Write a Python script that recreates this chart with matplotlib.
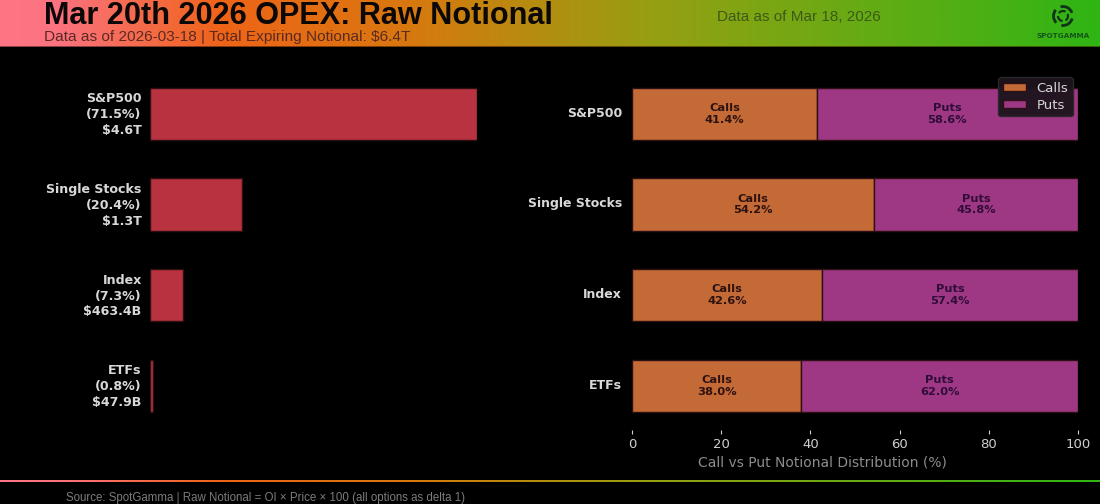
"""
plot.py - Mar 20th 2026 OPEX raw notional chart
"""
import numpy as np
import matplotlib
matplotlib.use("Agg")
import matplotlib.pyplot as plt
from matplotlib.colors import LinearSegmentedColormap
from matplotlib.patches import Arc
from matplotlib.transforms import ScaledTranslation

categories = ["S&P500", "Single Stocks", "Index", "ETFs"]
notional_trillions = [4.6, 1.3, 0.4634, 0.0479]
share_pct = [71.5, 20.4, 7.3, 0.8]
notional_labels = ["$4.6T", "$1.3T", "$463.4B", "$47.9B"]
calls_pct = [41.4, 54.2, 42.6, 38.0]
puts_pct = [58.6, 45.8, 57.4, 62.0]
pct_ticks = [0, 20, 40, 60, 80, 100]

W, H = 1100, 504
RED = "#b9323f"
CALLS = "#c46a36"
PUTS = "#9e3884"
EDGE = "#2e1014"
ROW0, ROW_STEP = 113.8, 90.67
GRAD = LinearSegmentedColormap.from_list(
    "hdr", [(0, "#ff7585"), (0.05, "#fb7280"), (0.2, "#ef6418"), (0.37, "#d8780f"),
            (0.6, "#94a012"), (0.8, "#62ac14"), (1, "#2fb515")])


def px_axes(fig, left, top, right, bottom):
    ax = fig.add_axes([left / W, 1 - bottom / H, (right - left) / W, (bottom - top) / H])
    # rows of bars sit at the same pixel heights in both panels
    ax.set_ylim((bottom - ROW0) / ROW_STEP, (top - ROW0) / ROW_STEP)
    return ax


fig = plt.figure(figsize=(W / 100, H / 100), dpi=100, facecolor="black")
grad = np.linspace(0, 1, 512).reshape(1, -1)
nudge_up = ScaledTranslation(0, 2 / 100, fig.dpi_scale_trans)

# header band
hdr = fig.add_axes([0, 1 - 46 / H, 1, 46 / H])
hdr.imshow(grad, aspect="auto", cmap=GRAD, extent=[0, 1, 0, 1])
hdr.axis("off")
edge = fig.add_axes([0, 1 - 47 / H, 1, 2 / H])
edge.imshow(grad * 0.9, aspect="auto", cmap=GRAD, vmin=0, vmax=1, extent=[0, 1, 0, 1], alpha=0.55)
edge.axis("off")

fig.text(44 / W, 1 - 16 / H, "Mar 20th 2026 OPEX: Raw Notional", family="Liberation Sans",
         fontweight="bold", fontsize=22.1, color="#0c0808", va="center", ha="left")
fig.text(44 / W, 1 - 37.5 / H, "Data as of 2026-03-18 | Total Expiring Notional: $6.4T",
         family="Liberation Sans", fontsize=11.05, color="#5a2a22", va="center", ha="left")
fig.text(798.5 / W, 1 - 17 / H, "Data as of Mar 18, 2026", family="Liberation Sans",
         fontsize=11, color="#3c5a18", va="center", ha="center")
fig.text(1063 / W, 1 - 36 / H, "SPOTGAMMA", family="DejaVu Sans", fontweight="bold",
         fontsize=5.2, color="#14561a", va="center", ha="center")

# logo swirl
logo = fig.add_axes([1048 / W, 1 - 28 / H, 30 / W, 24 / H])
logo.set_xlim(-15, 15)
logo.set_ylim(-12, 12)
logo.axis("off")
for start in (20, 140, 260):
    logo.add_patch(Arc((0, 0), 19, 19, theta1=start, theta2=start + 85, color="#10331a", lw=2))
    logo.add_patch(Arc((0, 0), 10, 10, theta1=start + 40, theta2=start + 125, color="#10331a", lw=1.6))

y = np.arange(len(categories))

# left panel: raw notional
ax1 = px_axes(fig, 150, 47, 477, 458)
ax1.set_facecolor("black")
ax1.barh(y, notional_trillions, height=0.575, color=RED, edgecolor=EDGE, lw=1)
ax1.set_xlim(0, 4.6)
ax1.set_yticks(y)
ax1.set_yticklabels([f"{c}\n({s}%)\n{n}" for c, s, n in zip(categories, share_pct, notional_labels)],
                    fontweight="bold", fontsize=9.1, color="#d8d8d8", linespacing=1.28)
ax1.tick_params(axis="y", length=0, pad=6)
ax1.set_xticks([])
for s in ax1.spines.values():
    s.set_visible(False)

# right panel: call/put split
ax2 = px_axes(fig, 632, 47, 1078, 430)
ax2.set_facecolor("black")
ax2.barh(y, calls_pct, height=0.575, color=CALLS, edgecolor=EDGE, lw=1, label="Calls")
ax2.barh(y, puts_pct, left=calls_pct, height=0.575, color=PUTS, edgecolor=EDGE, lw=1, label="Puts")
ax2.set_xlim(0, 100)
ax2.set_yticks(y)
ax2.set_yticklabels(categories, fontweight="bold", fontsize=9, color="#d8d8d8")
ax2.tick_params(axis="y", length=0, pad=7.2)
ax2.set_xticks(pct_ticks)
ax2.tick_params(axis="x", colors="#d0d0d0", labelsize=9.5, length=3, pad=2.5)
ax2.set_xlabel("Call vs Put Notional Distribution (%)", color="#8c8c8c", fontsize=10)
ax2.xaxis.set_label_coords((822 - 632) / 446, -(455 - 430) / 383)
for s in ax2.spines.values():
    s.set_visible(False)
for i in y:
    ax2.text(calls_pct[i] / 2, i, f"Calls\n{calls_pct[i]:.1f}%", ha="center", va="center",
             fontweight="bold", fontsize=8.2, color="#2e1210", linespacing=1.2)
    ax2.text(calls_pct[i] + puts_pct[i] / 2, i, f"Puts\n{puts_pct[i]:.1f}%", ha="center", va="center",
             fontweight="bold", fontsize=8.2, color="#300c38", linespacing=1.2)
leg = ax2.legend(loc="upper right", fontsize=9.5, facecolor="#1e141e", edgecolor="#2a2a2a",
                 labelcolor="#d8d8d8", framealpha=0.95, borderpad=0.35, labelspacing=0.3,
                 handlelength=1.75, handleheight=0.55, borderaxespad=0)
leg.set_bbox_to_anchor((1073 / W, 1 - 77 / H), transform=fig.transFigure)

for ax in (ax1, ax2):
    for lbl in ax.get_yticklabels():
        lbl.set_transform(lbl.get_transform() + nudge_up)

# footer
foot = fig.add_axes([0, 1 - 482 / H, 1, 2 / H])
foot.imshow(grad, aspect="auto", cmap=GRAD, extent=[0, 1, 0, 1])
foot.axis("off")
fig.text(265 / W, 1 - 498 / H, "Source: SpotGamma | Raw Notional = OI × Price × 100 (all options as delta 1)",
         family="Liberation Sans", fontsize=8.3, color="#7c7c7c", va="center", ha="center")

fig.savefig("out.png", dpi=100, facecolor="black")
